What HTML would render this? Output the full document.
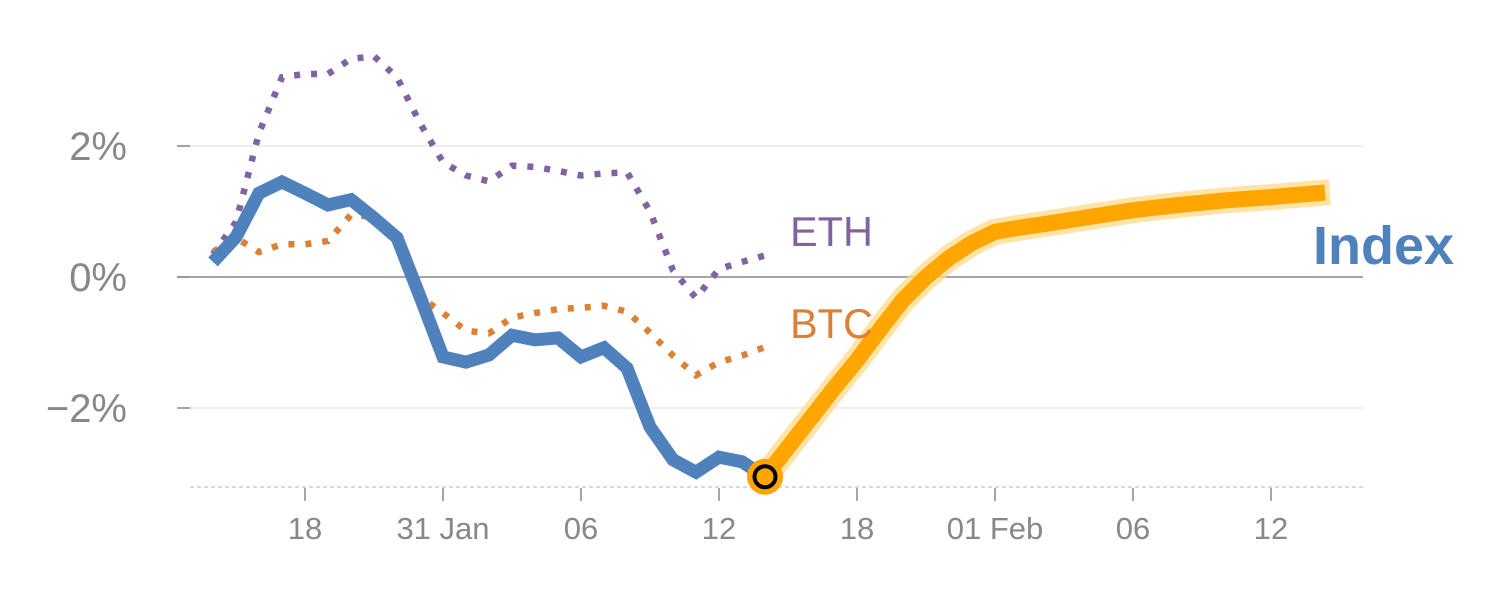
<!DOCTYPE html>
<html><head><meta charset="utf-8"><style>
html,body{margin:0;padding:0;background:#fff;}
svg{display:block;font-family:"Liberation Sans",sans-serif;}
</style></head><body>
<svg id="chart" width="1500" height="600"></svg>
<script>
const xTickIdx=[4,10,16,22,28,34,40,46];
const xTickLabels=["18","31 Jan","06","12","18","01 Feb","06","12"];
const yTicks=[2,0,-2];
const yTickLabels=["2%","0%","\u22122%"];
const indexVals=[0.23,0.61,1.28,1.45,1.28,1.10,1.18,0.9,0.6,-0.3,-1.22,-1.30,-1.19,-0.89,-0.96,-0.93,-1.22,-1.08,-1.39,-2.29,-2.79,-2.98,-2.75,-2.82,-3.05];
const ethVals=[0.35,0.84,2.2,3.05,3.1,3.1,3.33,3.37,3.05,2.35,1.75,1.55,1.46,1.7,1.68,1.62,1.55,1.58,1.6,1.0,0.1,-0.32,0.12,0.23,0.33];
const btcVals=[0.38,0.6,0.38,0.5,0.5,0.55,0.95,0.92,0.6,-0.3,-0.55,-0.82,-0.86,-0.62,-0.55,-0.49,-0.47,-0.44,-0.53,-0.85,-1.2,-1.5,-1.3,-1.2,-1.07];
const forecastStart=24;
const forecastVals=[-3.05,-2.6,-2.15,-1.7,-1.27,-0.8,-0.35,0.0,0.29,0.52,0.69,0.75,0.80,0.855,0.91,0.965,1.02,1.06,1.10,1.135,1.17,1.195,1.22,1.25,1.28];

const NS="http://www.w3.org/2000/svg";
const svg=document.getElementById('chart');
const X=i=>213+i*23;
const Y=v=>277-v*65.5;
function mk(tag,attrs,parent){const e=document.createElementNS(NS,tag);for(const k in attrs)e.setAttribute(k,attrs[k]);(parent||svg).appendChild(e);return e;}

yTicks.forEach((t,k)=>{
  const g=mk('line',{x1:177,x2:1363,y1:Y(t),y2:Y(t),stroke:t===0?'#888':'#e3e3e3','stroke-width':t===0?1.5:1.2});
  
  
  const tm=mk('line',{x1:177,x2:190,y1:Y(t),y2:Y(t),stroke:'#888','stroke-width':1.5});
  
  
  const tx=mk('text',{x:127,y:Y(t)+14,'text-anchor':'end','font-size':40,fill:'#888'});
  tx.textContent=yTickLabels[k];
  
  
});
const ax=mk('line',{x1:190,x2:1365,y1:487,y2:487,stroke:'#ccc','stroke-width':1.5,'stroke-dasharray':'4 3'});


xTickIdx.forEach((i,k)=>{
  const tm=mk('line',{x1:X(i),x2:X(i),y1:488,y2:501,stroke:'#888','stroke-width':1.5});
  
  
  const tx=mk('text',{x:X(i),y:539,'text-anchor':'middle','font-size':31,fill:'#888'});
  tx.textContent=xTickLabels[k];
  
  
});
function pts(vals,off){return vals.map((v,i)=>X(i+off)+','+Y(v)).join(' ');}
const eth=mk('polyline',{points:pts(ethVals,0),fill:'none',stroke:'#8064a2','stroke-width':6.5,'stroke-dasharray':'6 11'});


const btc=mk('polyline',{points:pts(btcVals,0),fill:'none',stroke:'#db8135','stroke-width':6.5,'stroke-dasharray':'6 11'});


const idx=mk('polyline',{points:pts(indexVals,0),fill:'none',stroke:'#4f81bd','stroke-width':13,'stroke-linejoin':'miter'});


const halo=mk('polyline',{points:pts(forecastVals,forecastStart),fill:'none',stroke:'#ffd98a','stroke-width':26,'stroke-opacity':0.75,'stroke-linecap':'square'});


const fc=mk('polyline',{points:pts(forecastVals,forecastStart),fill:'none',stroke:'#ffa500','stroke-width':16,'stroke-linecap':'square'});


const last=indexVals.length-1;
const m1=mk('circle',{cx:X(last),cy:Y(indexVals[last]),r:18,fill:'#ffa500'});


const m2=mk('circle',{cx:X(last),cy:Y(indexVals[last]),r:10.5,fill:'#ffa500',stroke:'#000','stroke-width':4});


const le=mk('text',{x:790,y:246,'font-size':41.5,fill:'#8064a2'});le.textContent='ETH';


const lb=mk('text',{x:790,y:338,'font-size':41.5,fill:'#db8135'});lb.textContent='BTC';


const li=mk('text',{x:1313,y:264,'font-size':54,'font-weight':'bold',fill:'#4f81bd'});li.textContent='Index';


</script>
</body></html>
